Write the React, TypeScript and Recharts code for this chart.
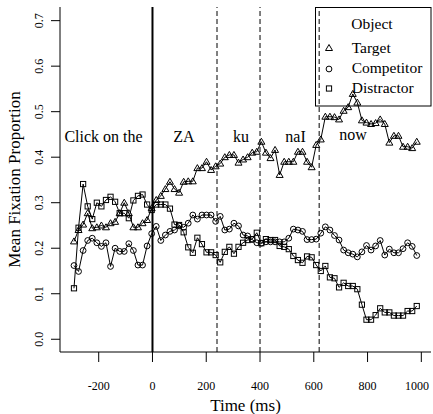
import React from 'react';
import { LineChart, Line, XAxis, YAxis, ReferenceLine } from 'recharts';

// Time (ms) of each sample
const times = [
  -292, -275, -258, -241, -224, -207, -190, -173, -156, -139, -122, -105, -88, -71, -54, -37, -20, -3,
  14, 31, 48, 65, 82, 99, 116, 133, 150, 167, 184, 201, 218, 235, 252, 269, 286, 303, 320, 337, 354,
  371, 388, 405, 422, 439, 456, 473, 490, 507, 524, 541, 558, 575, 592, 609, 626, 643, 660, 677, 694,
  711, 728, 745, 762, 779, 796, 813, 830, 847, 864, 881, 898, 915, 932, 949, 966, 983,
];

const target = [
  0.215, 0.240, 0.252, 0.277, 0.244, 0.246, 0.250, 0.246, 0.255, 0.258, 0.277, 0.300, 0.277, 0.246, 0.246, 0.255, 0.262, 0.288,
  0.306, 0.315, 0.330, 0.346, 0.330, 0.322, 0.346, 0.347, 0.347, 0.376, 0.376, 0.390, 0.372, 0.380, 0.386, 0.400, 0.405, 0.405, 0.388, 0.395, 0.400,
  0.410, 0.412, 0.434, 0.410, 0.398, 0.416, 0.361, 0.390, 0.390, 0.390, 0.412, 0.412, 0.390, 0.378, 0.427, 0.439, 0.489, 0.489, 0.488, 0.483,
  0.502, 0.510, 0.539, 0.520, 0.481, 0.476, 0.473, 0.475, 0.483, 0.473, 0.432, 0.447, 0.447, 0.423, 0.423, 0.420, 0.434,
];

const competitor = [
  0.162, 0.149, 0.195, 0.217, 0.222, 0.212, 0.204, 0.212, 0.160, 0.200, 0.193, 0.193, 0.210, 0.195, 0.163, 0.163, 0.205, 0.232,
  0.248, 0.217, 0.229, 0.237, 0.240, 0.249, 0.246, 0.255, 0.273, 0.264, 0.273, 0.273, 0.273, 0.259, 0.270, 0.240, 0.242, 0.255, 0.249, 0.229, 0.227,
  0.219, 0.212, 0.211, 0.214, 0.214, 0.214, 0.214, 0.214, 0.222, 0.242, 0.240, 0.237, 0.219, 0.219, 0.220, 0.233, 0.247, 0.240, 0.228, 0.218,
  0.196, 0.190, 0.187, 0.181, 0.192, 0.206, 0.196, 0.205, 0.217, 0.185, 0.198, 0.190, 0.190, 0.199, 0.212, 0.204, 0.184,
];

const distractor = [
  0.112, 0.245, 0.341, 0.292, 0.264, 0.300, 0.292, 0.306, 0.313, 0.302, 0.277, 0.277, 0.266, 0.305, 0.315, 0.318, 0.296, 0.284,
  0.296, 0.296, 0.296, 0.287, 0.252, 0.251, 0.235, 0.202, 0.190, 0.223, 0.209, 0.191, 0.191, 0.185, 0.169, 0.192, 0.203, 0.188, 0.203, 0.212, 0.218,
  0.220, 0.234, 0.211, 0.220, 0.218, 0.218, 0.205, 0.203, 0.198, 0.183, 0.174, 0.168, 0.182, 0.180, 0.163, 0.150, 0.161, 0.136, 0.134, 0.114,
  0.124, 0.117, 0.117, 0.110, 0.076, 0.043, 0.043, 0.053, 0.068, 0.059, 0.059, 0.052, 0.052, 0.052, 0.062, 0.062, 0.073,
];

const xTicks = [-200, 0, 200, 400, 600, 800, 1000];
const xTickLabels = ['-200', '0', '200', '400', '600', '800', '1000'];
const yTicks = [0, 0.1, 0.2, 0.3, 0.4, 0.5, 0.6, 0.7];
const yTickLabels = ['0.0', '0.1', '0.2', '0.3', '0.4', '0.5', '0.6', '0.7'];
const wordOnsets = [240, 400, 620];
const soundOnset = 0;
const words = ['Click on the', 'ZA', 'ku', 'naI', 'now'];
const seriesNames = ['Target', 'Competitor', 'Distractor'];

const data = times.map((t, i) => ({
  t,
  target: target[i],
  competitor: competitor[i],
  distractor: distractor[i],
}));

const FONT = '"Liberation Serif", "DejaVu Serif", serif';
const W = 433;
const H = 414;
const X_DOMAIN: [number, number] = [-344, 1036];
const Y_DOMAIN: [number, number] = [-0.028, 0.73];

const triPath = (cx: number, cy: number) =>
  `M${cx},${cy - 3.5} L${cx + 3.5},${cy + 2.5} L${cx - 3.5},${cy + 2.5} Z`;

const TriDot = (p: any) => {
  const { cx, cy, index } = p;
  if (cx == null || cy == null) return <g key={`t${index}`} />;
  return <path key={`t${index}`} d={triPath(cx, cy)} fill="none" stroke="#000" strokeWidth={1} />;
};
const CircDot = (p: any) => {
  const { cx, cy, index } = p;
  if (cx == null || cy == null) return <g key={`c${index}`} />;
  return <circle key={`c${index}`} cx={cx} cy={cy} r={2.9} fill="none" stroke="#000" strokeWidth={1} />;
};
const SqDot = (p: any) => {
  const { cx, cy, index } = p;
  if (cx == null || cy == null) return <g key={`s${index}`} />;
  return <rect key={`s${index}`} x={cx - 2.6} y={cy - 2.6} width={5.2} height={5.2} fill="none" stroke="#000" strokeWidth={1} />;
};

const XTick = (p: any) => (
  <text x={p.x} y={390} textAnchor="middle" fontSize={12} fontFamily={FONT} style={{ fontFamily: FONT }} fill="#000">
    {xTickLabels[p.index]}
  </text>
);
const YTick = (p: any) => {
  const x = 43;
  return (
    <text x={x} y={p.y} transform={`rotate(-90 ${x} ${p.y})`} textAnchor="middle" fontSize={12} fontFamily={FONT} style={{ fontFamily: FONT }} fill="#000">
      {yTickLabels[p.index]}
    </text>
  );
};

// word label anchor positions (px) for annotation text
const wordPos = [
  { x: 103.5, y: 142 },
  { x: 184, y: 142 },
  { x: 241, y: 142 },
  { x: 295.5, y: 142 },
  { x: 353, y: 140 },
];

const Overlay = () => (
  <svg width={W} height={H} style={{ position: 'absolute', left: 0, top: 0, pointerEvents: 'none' }}>
    <g fontFamily={FONT} fill="#000">
      {words.map((w, i) => (
        <text key={w} x={wordPos[i].x} y={wordPos[i].y} textAnchor="middle" fontSize={16}>
          {w}
        </text>
      ))}
      <text x={245.5} y={411} textAnchor="middle" fontSize={17}>Time (ms)</text>
      <text x={20} y={179.5} transform="rotate(-90 20 179.5)" textAnchor="middle" fontSize={17}>
        Mean Fixation Proportion
      </text>
      {/* legend */}
      <rect x={315.5} y={7.5} width={115.5} height={98.5} fill="none" stroke="#000" strokeWidth={1} />
      <text x={372} y={29} textAnchor="middle" fontSize={15.5}>Object</text>
      <path d={triPath(329, 48)} fill="none" stroke="#000" />
      <circle cx={329} cy={69} r={2.9} fill="none" stroke="#000" />
      <rect x={326.4} y={85.9} width={5.2} height={5.2} fill="none" stroke="#000" />
      <text x={351.7} y={53} fontSize={15.5}>{seriesNames[0]}</text>
      <text x={351.7} y={73} fontSize={15.5}>{seriesNames[1]}</text>
      <text x={351.7} y={92.5} fontSize={15.5}>{seriesNames[2]}</text>
    </g>
  </svg>
);

export default function App() {
  return (
    <div style={{ position: 'absolute', left: 0, top: 0, width: W, height: H, background: '#fff', fontFamily: FONT }}>
      <LineChart width={W} height={H} data={data} margin={{ top: 7, right: 2, bottom: 0, left: 0 }} style={{ fontFamily: FONT }}>
        <XAxis
          dataKey="t"
          type="number"
          domain={X_DOMAIN}
          ticks={xTicks}
          allowDataOverflow
          height={62}
          tickSize={10}
          tick={<XTick />}
          axisLine={{ stroke: '#000' }}
          tickLine={{ stroke: '#000' }}
        />
        <XAxis xAxisId="top" orientation="top" type="number" domain={X_DOMAIN} height={0} tick={false} tickLine={false} axisLine={{ stroke: '#000' }} />
        <YAxis
          type="number"
          domain={Y_DOMAIN}
          ticks={yTicks}
          allowDataOverflow
          width={60}
          tickSize={9}
          tick={<YTick />}
          axisLine={{ stroke: '#000' }}
          tickLine={{ stroke: '#000' }}
        />
        <YAxis yAxisId="right" orientation="right" type="number" domain={Y_DOMAIN} width={0} tick={false} tickLine={false} axisLine={{ stroke: '#000' }} />
        <ReferenceLine x={soundOnset} stroke="#000" strokeWidth={2} />
        {wordOnsets.map((w) => (
          <ReferenceLine key={w} x={w} stroke="#000" strokeWidth={1} strokeDasharray="5 3" />
        ))}
        <Line dataKey="target" stroke="#000" strokeWidth={1} dot={TriDot} isAnimationActive={false} type="linear" />
        <Line dataKey="competitor" stroke="#000" strokeWidth={1} dot={CircDot} isAnimationActive={false} type="linear" />
        <Line dataKey="distractor" stroke="#000" strokeWidth={1} dot={SqDot} isAnimationActive={false} type="linear" />
      </LineChart>
      <Overlay />
    </div>
  );
}
